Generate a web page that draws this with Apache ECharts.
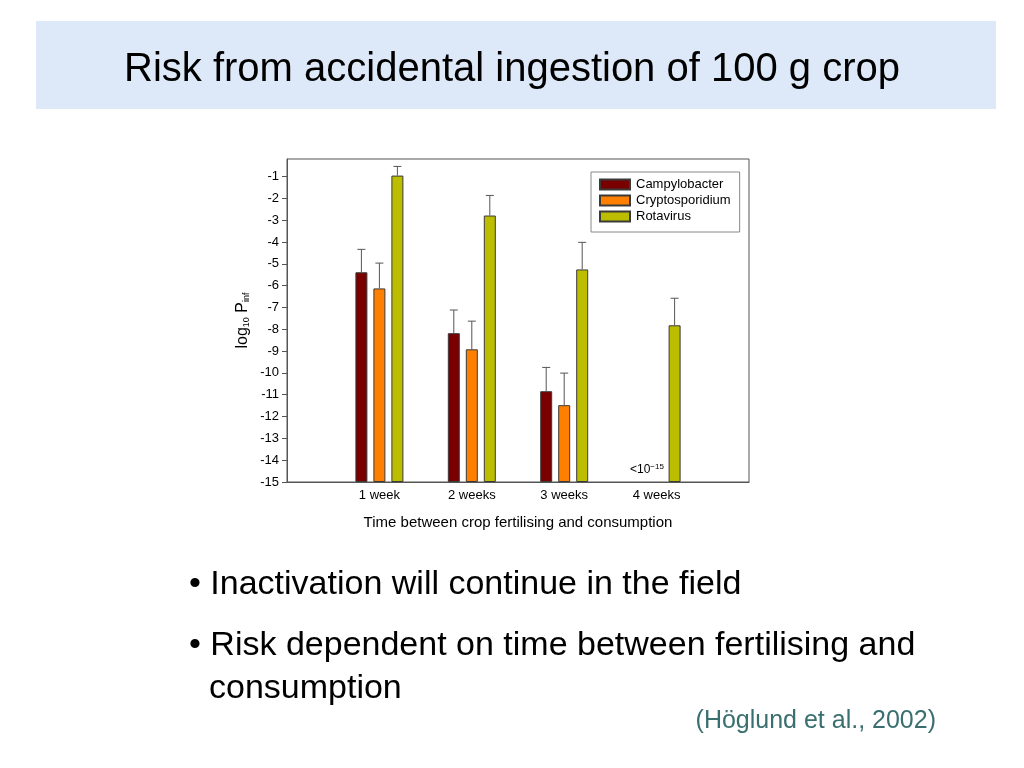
<!DOCTYPE html>
<html><head><meta charset="utf-8">
<script src="https://cdn.jsdelivr.net/npm/echarts@6/dist/echarts.min.js"></script>
<style>html,body{margin:0;padding:0;background:#fff}#c{width:1024px;height:768px}</style>
</head><body><div id="c"></div>
<script>
const categories = ['1 week', '2 weeks', '3 weeks', '4 weeks'];
const seriesNames = ['Campylobacter', 'Cryptosporidium', 'Rotavirus'];
const campylobacter = [-5.39, -8.18, -10.84, null];
const campylobacterUpper = [-4.34, -7.12, -9.75, null];
const cryptosporidium = [-6.13, -8.92, -11.48, null];
const cryptosporidiumUpper = [-4.97, -7.63, -10.01, null];
const rotavirus = [-0.96, -2.79, -5.26, -7.82];
const rotavirusUpper = [-0.54, -1.87, -4.02, -6.58];
const yTicks = [-15, -14, -13, -12, -11, -10, -9, -8, -7, -6, -5, -4, -3, -2, -1];
const Y_MIN = -15, Y_MAX = -0.2;

const colors = ['#7a0000', '#ff8000', '#bdbd00'];
const FONT = '"Liberation Sans", Arial, sans-serif';
const xCats = [''].concat(categories, ['']);
const values = [campylobacter, cryptosporidium, rotavirus];
const uppers = [campylobacterUpper, cryptosporidiumUpper, rotavirusUpper];
const shift = v => (v == null ? null : v - Y_MIN);
const BAR_W = 12, BAR_GAP = 6;

const series = [];
values.forEach((vals, i) => {
  series.push({
    name: seriesNames[i], type: 'bar', barWidth: BAR_W, barGap: '50%',
    itemStyle: { color: colors[i], borderColor: '#3a3a3a', borderWidth: 1 },
    data: [null].concat(vals.map(shift), [null]),
    z: 2
  });
});
values.forEach((vals, i) => {
  const data = [];
  vals.forEach((v, k) => { if (v != null) data.push([k + 1, shift(v), shift(uppers[i][k])]); });
  series.push({
    type: 'custom', z: 3, silent: true,
    renderItem: function (params, api) {
      const x = api.value(0);
      const p = api.coord([x, api.value(1)]);
      const t = api.coord([x, api.value(2)]);
      const cx = p[0] + (i - 1) * (BAR_W + BAR_GAP);
      const st = { stroke: '#555', lineWidth: 1 };
      return { type: 'group', children: [
        { type: 'line', shape: { x1: cx, y1: p[1], x2: cx, y2: t[1] }, style: st },
        { type: 'line', shape: { x1: cx - 4, y1: t[1], x2: cx + 4, y2: t[1] }, style: st }
      ]};
    },
    encode: { x: 0, y: 1 },
    data: data
  });
});

const chart = echarts.init(document.getElementById('c'), null, { renderer: 'canvas' });
chart.setOption({
  backgroundColor: '#fff',
  animation: false,
  textStyle: { fontFamily: FONT },
  graphic: [
    { type: 'rect', left: 36, top: 21, shape: { width: 960, height: 88 }, style: { fill: '#dde9f8' }, z: 0 },
    { type: 'text', left: 'center', top: 50, style: { text: 'Risk from accidental ingestion of 100 g crop', font: '40px ' + FONT, fill: '#000' } },
    { type: 'text', left: 189, top: 568, style: { text: '\u2022 Inactivation will continue in the field', font: '34px ' + FONT, fill: '#000' } },
    { type: 'text', left: 189, top: 629, style: { text: '\u2022 Risk dependent on time between fertilising and', font: '34px ' + FONT, fill: '#000' } },
    { type: 'text', left: 209, top: 672, style: { text: 'consumption', font: '34px ' + FONT, fill: '#000' } },
    { type: 'text', right: 88, top: 709, style: { text: '(H\u00f6glund et al., 2002)', font: '25px ' + FONT, fill: '#3a6f70' } },
    { type: 'text', left: 630, top: 463, style: { text: '<10{s|\u221215}', font: '12px ' + FONT, fill: '#000', rich: { s: { fontSize: 8, verticalAlign: 'top', padding: [0, 0, 6, 0] } } } }
  ],
  legend: {
    orient: 'vertical', left: 591, top: 172,
    data: seriesNames.map(n => ({ name: n, icon: 'rect' })),
    itemWidth: 30, itemHeight: 10, itemGap: 3,
    padding: [6, 9, 9, 8],
    borderColor: '#888', borderWidth: 1, backgroundColor: '#fff',
    textStyle: { fontSize: 13, color: '#000', fontFamily: FONT, padding: [0, 0, 0, 1] }
  },
  grid: { left: 287, top: 159, width: 462, height: 323, show: true, borderColor: '#555', borderWidth: 1, containLabel: false },
  xAxis: {
    type: 'category', data: xCats, boundaryGap: false,
    axisLine: { lineStyle: { color: '#555' } },
    axisTick: { show: false },
    axisLabel: { color: '#000', fontSize: 13, margin: 7, interval: 0, fontFamily: FONT },
    name: 'Time between crop fertilising and consumption', nameLocation: 'middle', nameGap: 33,
    nameTextStyle: { color: '#000', fontSize: 15, fontFamily: FONT },
    splitLine: { show: false }
  },
  yAxis: {
    type: 'value', min: 0, max: Y_MAX - Y_MIN,
    axisLine: { show: true, lineStyle: { color: '#555' } },
    axisTick: { show: true, length: 5, customValues: yTicks.map(shift), lineStyle: { color: '#555' } },
    axisLabel: { color: '#000', fontSize: 13, margin: 8, customValues: yTicks.map(shift), formatter: v => String(Math.round(v + Y_MIN)), fontFamily: FONT },
    splitLine: { show: false },
    name: 'log{sub|10} P{sub|inf}', nameLocation: 'middle', nameGap: 36, nameRotate: 90,
    nameTextStyle: { color: '#000', fontSize: 16, fontFamily: FONT, rich: { sub: { fontSize: 9, verticalAlign: 'bottom', padding: [6, 0, 0, 0] } } }
  },
  series: series
});
</script></body></html>
